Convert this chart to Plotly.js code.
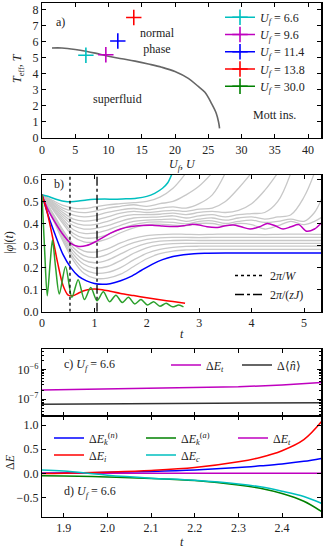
<!DOCTYPE html>
<html><head><meta charset="utf-8">
<script src="https://cdn.plot.ly/plotly-3.0.1.min.js"></script>
<style>html,body{margin:0;padding:0;background:#fff}</style>
</head><body><div id="chart" style="width:325px;height:550px"></div>
<script>
// ---------- Panel a ----------
const boundaryU = [1.5,3,5,6.6,8,10,12,14,16,18,20,22,23.5,24.5,25.5,26.2,26.55,26.7];
const boundaryT = [5.62,5.62,5.53,5.42,5.3,5.1,4.95,4.8,4.62,4.42,4.15,3.72,3.22,2.85,2.15,1.55,1.0,0.6];
const quenchLabels = ["6.6","9.6","11.4","13.8","30.0"];
const quenchU = [6.6, 9.6, 11.4, 13.8, 30.0];
const quenchTeff = [5.17, 5.2, 6.06, 7.52, null];
const quenchColors = ["#00bfbf","#bf00bf","#0000ff","#ff0000","#008000"];

// ---------- Panel b ----------
const tCyan = [0,0.15,0.3,0.45,0.55,0.7,0.85,1.0,1.2,1.4,1.6,1.8,2.0,2.15,2.3,2.4,2.48];
const phiCyan = [0.53,0.52,0.508,0.5,0.499,0.502,0.507,0.51,0.511,0.51,0.512,0.515,0.523,0.537,0.56,0.585,0.625];
const tMag = [0,0.1,0.25,0.4,0.55,0.7,0.85,1.0,1.15,1.3,1.5,1.7,1.9,2.1,2.3,2.5,2.7,2.85,3.0,3.15,3.35,3.5,3.65,3.8,3.97,4.15,4.3,4.45,4.6,4.75,4.9,5.05,5.2,5.34];
const phiMag = [0.53,0.47,0.405,0.35,0.31,0.296,0.3,0.315,0.335,0.355,0.375,0.386,0.391,0.392,0.389,0.386,0.39,0.396,0.393,0.385,0.382,0.39,0.393,0.385,0.375,0.385,0.4,0.39,0.375,0.385,0.395,0.365,0.375,0.405];
const tBlue = [0,0.1,0.25,0.4,0.55,0.7,0.85,1.0,1.15,1.3,1.5,1.7,1.9,2.1,2.3,2.5,2.7,2.9,3.1,3.5,4,4.5,5,5.34];
const phiBlue = [0.53,0.45,0.35,0.26,0.2,0.16,0.14,0.128,0.124,0.127,0.14,0.16,0.188,0.215,0.236,0.25,0.258,0.263,0.265,0.266,0.266,0.266,0.266,0.266];
const tRed = [0,0.1,0.2,0.3,0.4,0.5,0.6,0.7,0.85,1.0,1.15,1.3,1.5,1.75,2.0,2.25,2.5,2.73];
const phiRed = [0.53,0.45,0.34,0.22,0.12,0.075,0.073,0.085,0.098,0.103,0.1,0.093,0.083,0.073,0.063,0.054,0.046,0.038];
const tGreen = [0,0.05,0.1,0.155,0.2,0.26,0.33,0.45,0.57,0.69,0.81,0.93,1.05,1.17,1.29,1.41,1.53,1.65,1.77,1.89,2.01,2.13,2.25,2.37,2.49,2.61,2.7];
const phiGreen = [0.53,0.28,0.072,0.22,0.325,0.2,0.08,0.205,0.065,0.145,0.055,0.11,0.05,0.09,0.045,0.075,0.042,0.065,0.035,0.055,0.03,0.045,0.025,0.038,0.022,0.03,0.022];
const tGray = [0,0.2,0.4,0.6,0.8,1.0,1.25,1.5,1.75,2.0,2.25,2.5,2.75,3.0,3.25,3.5,3.75,4.0,4.25,4.5,4.75,5.0,5.2,5.35];
const gray1 = [0.53,0.505,0.482,0.47,0.468,0.475,0.485,0.49,0.495,0.5,0.52,0.56,0.63,null,null,null,null,null,null,null,null,null,null,null];
const gray2 = [0.53,0.5,0.47,0.455,0.449,0.455,0.47,0.478,0.485,0.478,0.49,0.5,0.53,0.57,0.63,null,null,null,null,null,null,null,null,null];
const gray3 = [0.53,0.495,0.46,0.438,0.43,0.435,0.45,0.462,0.468,0.462,0.47,0.475,0.47,0.49,0.53,0.63,null,null,null,null,null,null,null,null];
const gray4 = [0.53,0.49,0.45,0.42,0.411,0.415,0.43,0.447,0.455,0.45,0.455,0.46,0.455,0.465,0.47,0.5,0.56,0.63,null,null,null,null,null,null];
const gray5 = [0.53,0.485,0.44,0.405,0.393,0.395,0.41,0.43,0.44,0.44,0.442,0.447,0.44,0.45,0.455,0.45,0.46,0.49,0.55,0.63,null,null,null,null];
const gray6 = [0.53,0.48,0.43,0.39,0.375,0.377,0.39,0.41,0.425,0.428,0.43,0.435,0.425,0.435,0.44,0.43,0.44,0.445,0.45,0.5,0.63,null,null,null];
const gray7 = [0.53,0.475,0.42,0.372,0.355,0.356,0.37,0.392,0.41,0.415,0.418,0.42,0.41,0.42,0.425,0.415,0.425,0.43,0.42,0.43,0.44,0.52,0.63,null];
const gray8 = [0.53,0.47,0.41,0.355,0.335,0.335,0.35,0.375,0.395,0.405,0.407,0.405,0.398,0.41,0.412,0.4,0.41,0.415,0.405,0.41,0.42,0.41,0.45,0.52];
const gray9 = [0.53,0.465,0.4,0.34,0.317,0.315,0.33,0.358,0.38,0.395,0.397,0.393,0.39,0.4,0.4,0.39,0.4,0.395,0.375,0.39,0.41,0.395,0.41,0.43];
const gray10 = [0.53,0.45,0.37,0.305,0.275,0.27,0.285,0.312,0.333,0.345,0.35,0.352,0.351,0.35,0.351,0.352,0.352,0.351,0.35,0.351,0.352,0.352,0.351,0.351];
const gray11 = [0.53,0.445,0.36,0.29,0.254,0.245,0.26,0.29,0.313,0.328,0.335,0.337,0.337,0.336,0.337,0.337,0.337,0.337,0.337,0.337,0.337,0.337,0.337,0.337];
const gray12 = [0.53,0.44,0.35,0.275,0.234,0.222,0.234,0.262,0.29,0.31,0.32,0.323,0.324,0.323,0.323,0.323,0.323,0.323,0.323,0.323,0.323,0.323,0.323,0.323];
const gray13 = [0.53,0.435,0.34,0.26,0.215,0.198,0.205,0.232,0.265,0.29,0.303,0.309,0.31,0.31,0.31,0.31,0.31,0.31,0.31,0.31,0.31,0.31,0.31,0.31];
const gray14 = [0.53,0.43,0.33,0.245,0.193,0.175,0.178,0.2,0.235,0.265,0.283,0.292,0.296,0.297,0.297,0.297,0.297,0.297,0.297,0.297,0.297,0.297,0.297,0.297];
const gray15 = [0.53,0.425,0.32,0.232,0.174,0.152,0.152,0.17,0.205,0.24,0.263,0.275,0.28,0.282,0.283,0.283,0.283,0.283,0.283,0.283,0.283,0.283,0.283,0.283];
const grayCurves = [gray1,gray2,gray3,gray4,gray5,gray6,gray7,gray8,gray9,gray10,gray11,gray12,gray13,gray14,gray15];
const tW = 0.534, tzJ = 1.05;

// ---------- Panel c ----------
const tC = [1.85,2.0,2.15,2.3,2.4,2.49];
const dEtC = [2.05e-7,2.2e-7,2.35e-7,2.6e-7,3.0e-7,3.6e-7];
const dNC = [6.8e-8,7.0e-8,7.2e-8,7.4e-8,7.6e-8,7.7e-8];

// ---------- Panel d ----------
const tD = [1.85,1.9,2.0,2.1,2.2,2.3,2.35,2.4,2.45,2.49];
const dEkn = [0.0,0.005,0.02,0.04,0.07,0.12,0.155,0.195,0.25,0.31];
const dEi = [-0.005,0.0,0.025,0.06,0.12,0.24,0.33,0.47,0.7,1.07];
const dEka = [-0.05,-0.055,-0.075,-0.105,-0.15,-0.24,-0.31,-0.42,-0.58,-0.79];
const dEc = [0.07,0.05,-0.04,-0.1,-0.145,-0.22,-0.28,-0.37,-0.48,-0.62];
const dEt = [0,0,0,0,0,0,0,0,0,0];

const FONT = "Liberation Serif";
const W=325, H=550;
const px = v=>v/W, py = v=>1-v/H;
const traces = [];
// a
traces.push({x: boundaryU, y: boundaryT, xaxis:'x', yaxis:'y', mode:'lines', line:{color:'#666666', width:1.6, shape:'spline'}, showlegend:false, hoverinfo:'skip'});
const aLegendIds = ['legend','legend6','legend7','legend8','legend9'];
quenchU.forEach((u,i)=>{
  traces.push({x:[u], y:[quenchTeff[i]], xaxis:'x', yaxis:'y', mode:'lines+markers', name:'<i>U<sub>f</sub></i> = '+quenchLabels[i],
    line:{color:quenchColors[i], width:1.5}, marker:{symbol:'cross-thin', size:11, color:quenchColors[i], line:{width:1.6, color:quenchColors[i]}}, legend:aLegendIds[i]});
});
// b
grayCurves.forEach(g=>{
  traces.push({x:tGray, y:g, xaxis:'x2', yaxis:'y2', mode:'lines', line:{color:'#c8c8c8', width:1.3, shape:'spline', smoothing:1}, showlegend:false, hoverinfo:'skip'});
});
const colB = [[tCyan,phiCyan,quenchColors[0]],[tMag,phiMag,quenchColors[1]],[tBlue,phiBlue,quenchColors[2]],[tRed,phiRed,quenchColors[3]],[tGreen,phiGreen,'#2ca02c']];
colB.forEach(c=>{
  traces.push({x:c[0], y:c[1], xaxis:'x2', yaxis:'y2', mode:'lines', line:{color:c[2], width:1.5, shape:'spline', smoothing:0.8}, showlegend:false});
});
traces.push({x:[tW,tW], y:[0,0.62], xaxis:'x2', yaxis:'y2', mode:'lines', name:'2<i>π</i>/<i>W</i>', line:{color:'#000', width:1.3, dash:'dot'}, legend:'legend2'});
traces.push({x:[tzJ,tzJ], y:[0,0.62], xaxis:'x2', yaxis:'y2', mode:'lines', name:'2<i>π</i>/(<i>zJ</i>)', line:{color:'#000', width:1.3, dash:'dashdot'}, legend:'legend2'});
// c
traces.push({x:tC, y:dEtC, xaxis:'x3', yaxis:'y3', mode:'lines', name:'Δ<i>E<sub>t</sub></i>', line:{color:'#bf00bf', width:1.5}, legend:'legend3'});
traces.push({x:tC, y:dNC, xaxis:'x3', yaxis:'y3', mode:'lines', name:'Δ⟨<i>n̂</i>⟩', line:{color:'#333333', width:1.5}, legend:'legend3'});
// d
const dSeries = [
  [dEkn,'#0000ff','Δ<i>E</i><sub><i>k</i></sub><sup>(<i>n</i>)</sup>','legend4'],
  [dEka,'#008000','Δ<i>E</i><sub><i>k</i></sub><sup>(<i>a</i>)</sup>','legend4'],
  [dEt,'#bf00bf','Δ<i>E<sub>t</sub></i>','legend4'],
  [dEi,'#ff0000','Δ<i>E<sub>i</sub></i>','legend5'],
  [dEc,'#00bfbf','Δ<i>E<sub>c</sub></i>','legend5']];
dSeries.forEach(s=>{
  traces.push({x:tD, y:s[0], xaxis:'x4', yaxis:'y4', mode:'lines', name:s[2], line:{color:s[1], width:1.5, shape:'spline'}, legend:s[3]});
});

function ax(extra){
  return Object.assign({showline:true, linecolor:'#000', linewidth:1.2, mirror:'allticks', ticks:'inside', ticklen:4, tickwidth:1, tickcolor:'#000',
    showgrid:false, zeroline:false, tickfont:{family:FONT, size:12, color:'#222'}, fixedrange:true}, extra);
}
const legendBase = {bgcolor:'rgba(0,0,0,0)', borderwidth:0, font:{family:FONT, size:12, color:'#222'}, xanchor:'left', yanchor:'middle', itemwidth:30, tracegroupgap:0};
const aRows = [17.3, 34.5, 51.7, 69, 86.2];
const AF = {family:FONT, size:12, color:'#222'};
function note(text, xref, yref, x, y, extra){
  return Object.assign({text:text, xref:xref, yref:yref, x:x, y:y, showarrow:false, xanchor:'center', yanchor:'middle', font:AF}, extra||{});
}

const layout = {
  width:W, height:H, margin:{l:0,r:0,t:0,b:0}, paper_bgcolor:'#fff', plot_bgcolor:'#fff',
  font:AF,
  xaxis: ax({domain:[px(42),px(321.3)], range:[0,42], dtick:5, tick0:0, anchor:'y'}),
  yaxis: ax({domain:[py(138),py(3)], range:[0,8.43], dtick:1, tick0:0, anchor:'x'}),
  xaxis2: ax({domain:[px(42),px(321.3)], range:[0,5.33], dtick:1, tick0:0, anchor:'y2'}),
  yaxis2: ax({domain:[py(311.7),py(175)], range:[0,0.62], dtick:0.1, tick0:0, tickformat:'.1f', anchor:'x2'}),
  xaxis3: ax({domain:[px(42),px(321.3)], range:[1.85,2.49], dtick:0.1, tick0:1.9, showticklabels:false, anchor:'y3', matches:'x4'}),
  yaxis3: ax({domain:[py(416),py(349)], type:'log', range:[-7.56,-5.32], tickvals:[1e-7,1e-6], ticktext:['10<sup>−7</sup>','10<sup>−6</sup>'], anchor:'x3',
    minor:{ticks:'inside', ticklen:2, tickcolor:'#000', tickvals:[3e-8,4e-8,5e-8,6e-8,7e-8,8e-8,9e-8,2e-7,3e-7,4e-7,5e-7,6e-7,7e-7,8e-7,9e-7,2e-6,3e-6,4e-6]}}),
  xaxis4: ax({domain:[px(42),px(321.3)], range:[1.85,2.49], dtick:0.1, tick0:1.9, tickformat:'.1f', anchor:'y4'}),
  yaxis4: ax({domain:[py(516.7),py(416)], range:[-0.9,1.19], dtick:0.5, tick0:0, tickformat:'.1f', anchor:'x4'}),
  legend2: Object.assign({}, legendBase, {x:px(230), y:py(285)}),
  legend3: Object.assign({}, legendBase, {x:px(166), y:py(365), orientation:'h', entrywidth:26}),
  legend4: Object.assign({}, legendBase, {x:px(49), y:py(438), orientation:'h', entrywidth:47}),
  legend5: Object.assign({}, legendBase, {x:px(49), y:py(455), orientation:'h', entrywidth:47}),
  annotations: [
    note('<i>U<sub>f</sub></i>, <i>U</i>', 'paper', 'paper', px(182), py(164.5)),
    note('<i>T</i><sub>eff</sub>, <i>T</i>', 'paper', 'paper', px(18), py(68), {textangle:-90}),
    note('|<i>φ</i>|(<i>t</i>)', 'paper', 'paper', px(9), py(243), {textangle:-90}),
    note('<i>t</i>', 'paper', 'paper', px(182), py(334)),
    note('Δ<i>E</i>', 'paper', 'paper', px(10), py(462), {textangle:-90}),
    note('<i>t</i>', 'paper', 'paper', px(182), py(542)),
    note('a)', 'x', 'y', 2.85, 7.22),
    note('normal<br>phase', 'x', 'y', 17.4, 6.06),
    note('superfluid', 'x', 'y', 11.4, 2.44),
    note('Mott ins.', 'x', 'y', 34.95, 1.44),
    note('b)', 'x2', 'y2', 0.32, 0.577),
    note('c) <i>U<sub>f</sub></i> = 6.6', 'x3', 'y3', 1.896, -5.857, {xanchor:'left'}),
    note('d) <i>U<sub>f</sub></i> = 6.6', 'x4', 'y4', 1.896, -0.38, {xanchor:'left'})
  ]
};
aLegendIds.forEach((id,i)=>{ layout[id] = Object.assign({}, legendBase, {x:px(220), y:py(aRows[i])}); });
Plotly.newPlot('chart', traces, layout, {displayModeBar:false, staticPlot:true});
</script></body></html>
